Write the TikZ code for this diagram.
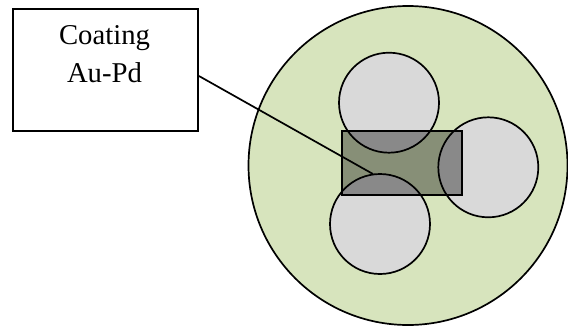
\documentclass[tikz,border=0pt]{standalone}
\usepackage{fontspec}
\setmainfont{Liberation Serif}
\definecolor{bigfill}{HTML}{D7E4BD}
\definecolor{smallfill}{HTML}{D9D9D9}
\begin{document}
\begin{tikzpicture}[x=1pt,y=-1pt,
  outline/.style={draw=black,line width=1.7pt},
  grain/.style={outline,fill=smallfill},
  coat/.style={draw=black,line width=2.3pt,fill=black,fill opacity=0.37},
  labelbox/.style={draw=black,line width=1.9pt,fill=white},
  leader/.style={draw=black,line width=1.7pt}]
\useasboundingbox (0,0) rectangle (568,327);
\fill[white] (0,0) rectangle (568,327);
% big particle
\draw[outline,fill=bigfill] (408,165.5) circle[radius=159.5];
% label box
\node[labelbox,minimum width=185pt,minimum height=122pt,inner sep=0pt] (box) at (105.5,70) {};
\node[font=\fontsize{28.7}{38}\selectfont,align=center,anchor=north,inner sep=0pt] (label) at (104.5,25) {Coating\\Au-Pd};
% small grains
\draw[grain] (389,102.7) circle[radius=50];
\draw[grain] (488.3,167.3) circle[radius=50];
\draw[grain] (380,224) circle[radius=50];
% coating
\draw[coat] (342.3,130.7) rectangle (461.7,195);
% leader
\coordinate (tip) at (373,174);
\draw[leader] ([yshift=-6pt]box.east) -- (tip);
\end{tikzpicture}
\end{document}
